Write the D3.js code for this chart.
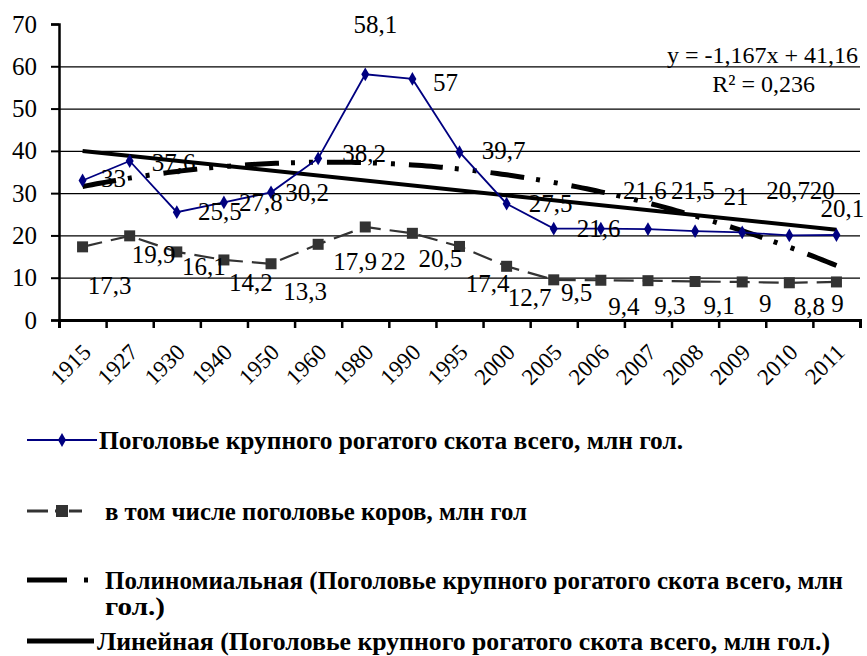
<!doctype html>
<html lang="ru">
<head>
<meta charset="utf-8">
<title>Поголовье скота</title>
<script src="https://cdnjs.cloudflare.com/ajax/libs/d3/7.8.5/d3.min.js"></script>
<style>
  body { margin: 0; background: #fff; }
  svg text { font-family: "Liberation Serif", "DejaVu Serif", "Times New Roman", serif; fill: #000; }
</style>
</head>
<body>
<div id="chart"></div>
<script>
var years = ["1915","1927","1930","1940","1950","1960","1980","1990","1995","2000",
             "2005","2006","2007","2008","2009","2010","2011"];
var totalCattle = [33, 37.6, 25.5, 27.8, 30.2, 38.2, 58.1, 57, 39.7, 27.5,
                   21.6, 21.6, 21.5, 21, 20.7, 20, 20.1];
var cows = [17.3, 19.9, 16.1, 14.2, 13.3, 17.9, 22, 20.5, 17.4, 12.7,
            9.5, 9.4, 9.3, 9.1, 9, 8.8, 9];
var yTicks = [0, 10, 20, 30, 40, 50, 60, 70];
var linSlope = -1.167, linIntercept = 41.16;
var eqText = "y = -1,167x + 41,16", r2Text = "R² = 0,236";
var legendNames = [
  "Поголовье крупного рогатого скота всего, млн гол.",
  "в том числе поголовье коров, млн гол",
  "Полиномиальная (Поголовье крупного рогатого скота всего, млн",
  "Линейная (Поголовье крупного рогатого скота всего, млн гол.)"
];

// label placement (offset of label centre from its point), as in the picture
var totalDx = [31, 44, 43, 37, 36, 46, 10, 33, 44, 44, 45, 44, 45, 41, 46, 33, 6];
var totalDy = [-2, 1, -1, 0, 0, -5, -50, 3, -2, 0, 0, -38, -39, -35, -42, -45, -27];
var cowsDx = [27, 24, 27, 27, 34, 37, 28, 28, 28, 23, 23, 23, 22, 24, 23, 20, 1];
var cowsDy = [38, 18, 14, 22, 27, 17, 34, 25, 37, 31, 12, 26, 25, 24, 21, 23, 21];

var width = 867, height = 656,
    plotLeft = 59, plotRight = 860, plotTop = 24, plotBottom = 320;
var serif = "'Liberation Serif', 'DejaVu Serif', 'Times New Roman', serif";

var svg = d3.select("#chart").append("svg")
  .attr("width", width).attr("height", height);

var x = d3.scaleBand().domain(years).range([plotLeft, plotRight]).padding(0);
var y = d3.scaleLinear().domain([0, 70]).range([plotBottom, plotTop]);
var xEdge = d3.scaleLinear().domain([0, years.length]).range([plotLeft, plotRight]);
function cx(i){ return x(years[i]) + x.bandwidth() / 2; }
var xi = d3.scaleLinear().domain([1, years.length]).range([cx(0), cx(years.length - 1)]);

// grid
svg.append("g")
  .attr("transform", "translate(" + plotLeft + ",0)")
  .call(d3.axisLeft(y).tickValues([10, 20, 30, 40, 50, 60]).tickSize(-(plotRight - plotLeft)).tickFormat(""))
  .call(function(g){
    g.select(".domain").remove();
    g.selectAll("line").attr("stroke", "#000").attr("stroke-width", 1.3);
  });

// y axis
svg.append("g")
  .attr("transform", "translate(" + plotLeft + ",0)")
  .call(d3.axisLeft(y).tickValues(yTicks).tickSize(8).tickPadding(14))
  .call(function(g){
    g.select(".domain").attr("stroke", "#000").attr("stroke-width", 2.5);
    g.selectAll("line").attr("stroke", "#000").attr("stroke-width", 2);
    g.selectAll("text").style("font-size", "25px").style("font-family", serif);
  });

// x axis (ticks between categories)
svg.append("g")
  .attr("transform", "translate(0," + plotBottom + ")")
  .call(d3.axisBottom(xEdge).tickValues(d3.range(years.length + 1)).tickSize(8).tickFormat(""))
  .call(function(g){
    g.select(".domain").attr("stroke", "#000").attr("stroke-width", 3);
    g.selectAll("line").attr("stroke", "#000").attr("stroke-width", 2.5);
  });

svg.append("g").selectAll("text")
  .data(years).enter().append("text")
  .attr("transform", function(d, i){ return "translate(" + (cx(i) + 4) + "," + (plotBottom + 28) + ") rotate(-45)"; })
  .attr("text-anchor", "end")
  .attr("dy", "0.35em")
  .style("font-size", "23px").style("font-family", serif)
  .text(function(d){ return d; });

// polynomial (order 2) least squares trend of total
function polyFit2(vals){
  var S = [0,0,0,0,0], T = [0,0,0];
  vals.forEach(function(v, k){
    var t = k + 1;
    for (var p = 0; p < 5; p++) S[p] += Math.pow(t, p);
    for (var q = 0; q < 3; q++) T[q] += v * Math.pow(t, q);
  });
  var A = [[S[0],S[1],S[2],T[0]],[S[1],S[2],S[3],T[1]],[S[2],S[3],S[4],T[2]]];
  for (var c = 0; c < 3; c++){
    for (var r = c + 1; r < 3; r++){
      var f = A[r][c] / A[c][c];
      for (var k = c; k < 4; k++) A[r][k] -= f * A[c][k];
    }
  }
  var b = [0,0,0];
  for (var r2 = 2; r2 >= 0; r2--){
    var s = A[r2][3];
    for (var k2 = r2 + 1; k2 < 3; k2++) s -= A[r2][k2] * b[k2];
    b[r2] = s / A[r2][r2];
  }
  return b;
}
var pc = polyFit2(totalCattle);
var tSteps = d3.range(1, years.length + 0.001, 0.1);
var trendLine = d3.line().x(function(t){ return xi(t); });

svg.append("path")
  .attr("d", trendLine.y(function(t){ return y(pc[0] + pc[1]*t + pc[2]*t*t); })(tSteps))
  .attr("fill", "none").attr("stroke", "#000").attr("stroke-width", 5)
  .attr("stroke-dasharray", "34,12,4,14,4,14");

svg.append("path")
  .attr("d", trendLine.y(function(t){ return y(linIntercept + linSlope*t); })([1, years.length]))
  .attr("fill", "none").attr("stroke", "#000").attr("stroke-width", 4);

// cows series
var line = d3.line().x(function(d, i){ return cx(i); }).y(function(d){ return y(d); });
svg.append("path").attr("d", line(cows))
  .attr("fill", "none").attr("stroke", "#333").attr("stroke-width", 2.2)
  .attr("stroke-dasharray", "20,9");
svg.append("g").selectAll("rect").data(cows).enter().append("rect")
  .attr("x", function(d, i){ return cx(i) - 5.5; })
  .attr("y", function(d){ return y(d) - 5.5; })
  .attr("width", 11).attr("height", 11).attr("fill", "#333");

// total series
svg.append("path").attr("d", line(totalCattle))
  .attr("fill", "none").attr("stroke", "#000080").attr("stroke-width", 1.8);
svg.append("g").selectAll("path").data(totalCattle).enter().append("path")
  .attr("d", d3.symbol().type(d3.symbolDiamond).size(55))
  .attr("transform", function(d, i){ return "translate(" + cx(i) + "," + y(d) + ")"; })
  .attr("fill", "#000080");

function fmt(v){ return String(v).replace(".", ","); }

svg.append("g").selectAll("text").data(totalCattle).enter().append("text")
  .attr("x", function(d, i){ return cx(i) + totalDx[i]; })
  .attr("y", function(d, i){ return y(d) + totalDy[i]; })
  .attr("text-anchor", "middle").attr("dy", "0.35em")
  .style("font-size", "25px").style("font-family", serif)
  .text(fmt);

svg.append("g").selectAll("text").data(cows).enter().append("text")
  .attr("x", function(d, i){ return cx(i) + cowsDx[i]; })
  .attr("y", function(d, i){ return y(d) + cowsDy[i]; })
  .attr("text-anchor", "middle").attr("dy", "0.35em")
  .style("font-size", "25px").style("font-family", serif)
  .text(fmt);

// trend equation
svg.append("text").attr("x", 858).attr("y", 55).attr("dy", "0.35em")
  .attr("text-anchor", "end").style("font-size", "24px").style("font-family", serif).text(eqText);
svg.append("text").attr("x", 815).attr("y", 84).attr("dy", "0.35em")
  .attr("text-anchor", "end").style("font-size", "24px").style("font-family", serif).text(r2Text);

// legend
var lg = svg.append("g");
var rows = [440, 511, 580, 641];
var textStart = [99, 105, 105, 97];
var textEnd = [683, 527, 843, 830];

lg.append("line").attr("x1", 27).attr("x2", 97).attr("y1", rows[0]).attr("y2", rows[0])
  .attr("stroke", "#000080").attr("stroke-width", 2);
lg.append("path").attr("d", d3.symbol().type(d3.symbolDiamond).size(55))
  .attr("transform", "translate(62," + rows[0] + ")").attr("fill", "#000080");

lg.append("line").attr("x1", 27).attr("x2", 90).attr("y1", rows[1]).attr("y2", rows[1])
  .attr("stroke", "#333").attr("stroke-width", 3).attr("stroke-dasharray", "21,7,7,7,13");
lg.append("rect").attr("x", 56).attr("y", rows[1] - 6).attr("width", 12).attr("height", 12).attr("fill", "#333");

lg.append("line").attr("x1", 27).attr("x2", 90).attr("y1", rows[2]).attr("y2", rows[2])
  .attr("stroke", "#000").attr("stroke-width", 5).attr("stroke-dasharray", "40,17,4,40");

lg.append("line").attr("x1", 27).attr("x2", 94).attr("y1", rows[3]).attr("y2", rows[3])
  .attr("stroke", "#000").attr("stroke-width", 5);

legendNames.forEach(function(name, i){
  lg.append("text").attr("x", textStart[i]).attr("y", rows[i]).attr("dy", "0.35em")
    .attr("textLength", textEnd[i] - textStart[i]).attr("lengthAdjust", "spacingAndGlyphs")
    .style("font-size", "25px").style("font-family", serif).style("font-weight", "bold")
    .text(name);
});
lg.append("text").attr("x", 105).attr("y", 606).attr("dy", "0.35em")
  .attr("textLength", 60).attr("lengthAdjust", "spacingAndGlyphs")
  .style("font-size", "25px").style("font-family", serif).style("font-weight", "bold")
  .text("гол.)");
</script>
</body>
</html>
